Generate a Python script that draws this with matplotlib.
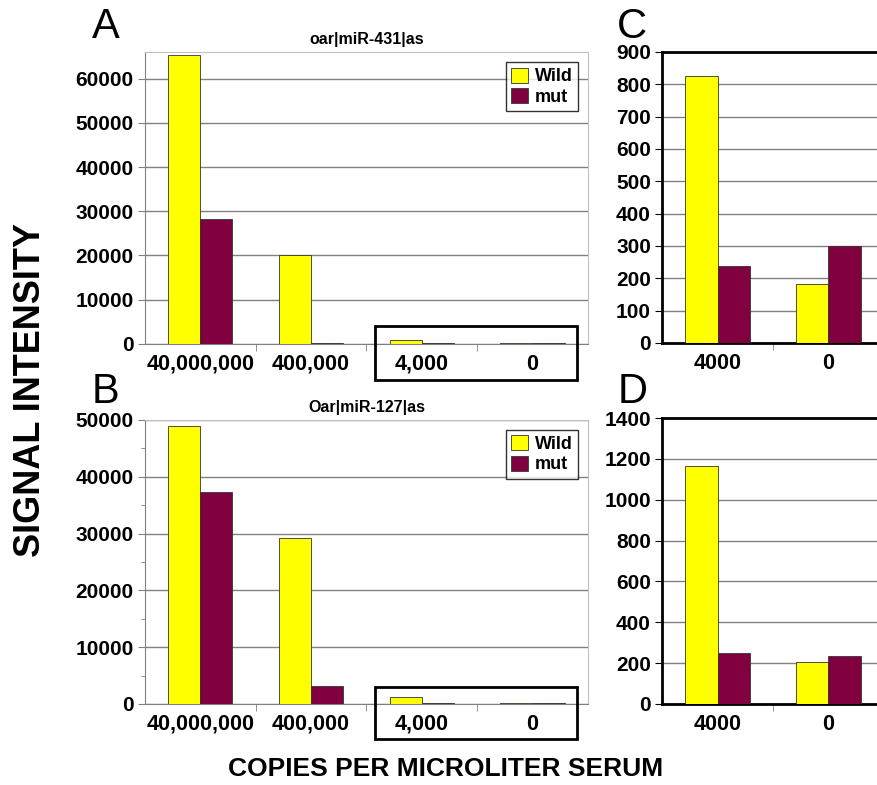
import numpy as np
import matplotlib
matplotlib.use("Agg")
import matplotlib.pyplot as plt
from matplotlib.patches import Rectangle
import matplotlib.transforms as mtransforms

plt.rcParams['font.family'] = ['Liberation Sans', 'DejaVu Sans']
plt.rcParams['font.weight'] = 'bold'

# data
doses = ['40,000,000', '400,000', '4,000', '0']
wild_431 = [65400, 20150, 830, 180]
mut_431 = [28300, 300, 235, 300]
wild_127 = [48950, 29200, 1170, 205]
mut_127 = [37400, 3100, 250, 235]

low_doses = ['4000', '0']
wild_c = [826, 182]
mut_c = [237, 300]
wild_d = [1167, 206]
mut_d = [250, 233]

yellow = '#FFFF00'
maroon = '#800040'
bw = 0.29


def big_panel(ax, wild, mut, ymax, step, title, minor=False):
    x = np.arange(len(doses))
    ax.bar(x - bw / 2, wild, bw, color=yellow, edgecolor='#333333', linewidth=0.6, label='Wild', zorder=3)
    ax.bar(x + bw / 2, mut, bw, color=maroon, edgecolor='#333333', linewidth=0.6, label='mut', zorder=3)
    ax.set_xlim(-0.5, len(doses) - 0.5)
    ax.set_ylim(0, ymax)
    ax.set_yticks(np.arange(0, ymax + 1, step))
    if minor:
        ax.set_yticks(np.arange(0, ymax + 1, step / 2), minor=True)
        ax.tick_params(axis='y', which='minor', length=3, color='#808080')
    ax.yaxis.grid(True, color='#808080', linewidth=1.0, zorder=0)
    ax.set_xticks(x)
    ax.set_xticklabels(doses)
    ax.set_xticks(np.arange(0.5, len(doses) - 0.5), minor=True)
    ax.tick_params(axis='x', which='major', length=0, labelsize=15.5, pad=7)
    ax.tick_params(axis='x', which='minor', length=5, color='#808080')
    ax.tick_params(axis='y', which='major', length=5, color='#808080', labelsize=15, pad=3)
    for s in ['top', 'right']:
        ax.spines[s].set_color('#c0c0c0')
    for s in ['left', 'bottom']:
        ax.spines[s].set_color('#808080')
    ax.set_title(title, fontsize=11.5, fontweight='bold', pad=6)
    leg = ax.legend(loc='upper right', bbox_to_anchor=(0.978, 0.965), fontsize=13,
                    frameon=True, fancybox=False, edgecolor='black',
                    handlelength=0.9, handleheight=0.9, handletextpad=0.4,
                    borderpad=0.3, labelspacing=0.15, borderaxespad=0)
    leg.get_frame().set_linewidth(1.0)
    # box around the two lowest doses
    trans = mtransforms.blended_transform_factory(ax.transData, ax.transAxes)
    ax.add_patch(Rectangle((1.577, -0.125), 1.825, 0.185, transform=trans, fill=False,
                           edgecolor='black', linewidth=2, clip_on=False, zorder=5))


def small_panel(ax, wild, mut, ymax, step):
    x = np.arange(len(low_doses))
    ax.bar(x - bw / 2, wild, bw, color=yellow, edgecolor='#333333', linewidth=0.6, zorder=3)
    ax.bar(x + bw / 2, mut, bw, color=maroon, edgecolor='#333333', linewidth=0.6, zorder=3)
    ax.set_xlim(-0.5, len(low_doses) - 0.5)
    ax.set_ylim(0, ymax)
    ax.set_yticks(np.arange(0, ymax + 1, step))
    ax.yaxis.grid(True, color='#808080', linewidth=1.0, zorder=0)
    ax.set_xticks(x)
    ax.set_xticklabels(low_doses)
    ax.set_xticks([0.5], minor=True)
    ax.tick_params(axis='x', which='major', length=0, labelsize=15.5, pad=7)
    ax.tick_params(axis='x', which='minor', length=5, color='#808080')
    ax.tick_params(axis='y', which='major', length=5, color='black', labelsize=15, pad=3)
    for s in ['top', 'left', 'bottom']:
        ax.spines[s].set_color('black')
        ax.spines[s].set_linewidth(2)
    ax.spines['right'].set_visible(False)


fig = plt.figure(figsize=(8.78, 7.85), dpi=100)

axA = fig.add_axes([0.1651, 0.5618, 0.5046, 0.372])
big_panel(axA, wild_431, mut_431, 66000, 10000, 'oar|miR-431|as')

axB = fig.add_axes([0.1651, 0.1032, 0.5046, 0.3618])
big_panel(axB, wild_127, mut_127, 50000, 10000, 'Oar|miR-127|as', minor=True)

axC = fig.add_axes([0.754, 0.5631, 0.2528, 0.3707])
small_panel(axC, wild_c, mut_c, 900, 100)

axD = fig.add_axes([0.754, 0.1032, 0.2528, 0.3643])
small_panel(axD, wild_d, mut_d, 1400, 200)

for letter, xf, yf in [('A', 0.121, 0.966), ('B', 0.12, 0.501),
                       ('C', 0.72, 0.966), ('D', 0.72, 0.501)]:
    fig.text(xf, yf, letter, fontsize=30, fontweight='normal', ha='center', va='center')

fig.text(0.035, 0.503, 'SIGNAL INTENSITY', fontsize=26, fontweight='bold',
         rotation=90, ha='center', va='center')
fig.text(0.507, 0.02, 'COPIES PER MICROLITER SERUM', fontsize=19, fontweight='bold',
         ha='center', va='center')

fig.savefig('out.png', dpi=100)
